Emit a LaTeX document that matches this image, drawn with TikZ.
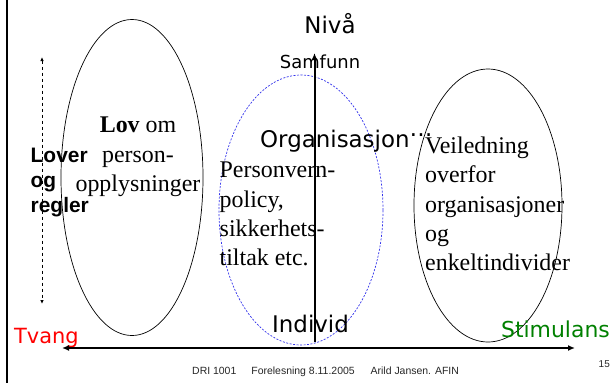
\documentclass[tikz,border=0pt]{standalone}
\usepackage{fontspec}
\setmainfont{Liberation Serif}
\setsansfont{Liberation Sans}
\newfontfamily\handfont{DejaVu Sans}
\usetikzlibrary{arrows.meta,shapes.geometric}
\definecolor{tvangred}{RGB}{255,0,0}
\definecolor{stimgreen}{RGB}{0,128,0}
\definecolor{dashblue}{RGB}{50,50,235}
\tikzset{
  hand/.style={font=\handfont\fontsize{#1}{#1}\selectfont, inner sep=0pt},
  bodytext/.style={font=\fontsize{24}{29.3}\selectfont, inner sep=0pt},
  zone/.style={ellipse, draw, line width=0.7bp, inner sep=0pt},
  axis/.style={line width=2bp, {Latex[length=7bp,width=6bp]}-{Latex[length=7bp,width=6bp]}}
}
\begin{document}
\begin{tikzpicture}[x=1bp,y=-1bp]
\useasboundingbox (0,0) rectangle (613,383);
%\draw[step=10,gray,very thin] (0,0) grid (613,383);
\draw[line width=2.3bp] (6.7,0) -- (6.7,383);

% the three zones
\node[zone, minimum width=142bp, minimum height=316bp] (lovzone) at (132,177.5) {};
\node[zone, dashblue, dash pattern=on 2bp off 1.5bp, minimum width=164bp, minimum height=270bp] (orgzone) at (301,210) {};
\node[zone, minimum width=148bp, minimum height=273bp] (guidezone) at (488,205.5) {};

\node[bodytext, align=center, anchor=north] (lovtext) at (138,117) {\textbf{Lov} om\\person-\\opplysninger};
\node[bodytext, align=left, anchor=north west] (policytext) at (219.5,162) {Personvern-\\policy,\\sikkerhets-\\tiltak etc.};
\node[bodytext, align=left, anchor=north west] (guidetext) at (425,137) {Veiledning\\overfor\\organisasjoner\\og\\enkeltindivider};
\node[font=\sffamily\bfseries\fontsize{21}{25}\selectfont, inner sep=0pt, align=left, anchor=north west] (rules) at (30.5,148) {Lover\\og\\regler};

\node[hand=23, anchor=base] (niva) at (330,33) {Nivå};
\node[hand=18, anchor=base] (samfunn) at (320,68) {Samfunn};
\node[hand=23, anchor=base west] (org) at (260,147) {Organisasjon\raisebox{11bp}{…}};
\node[hand=23, anchor=base west] (individ) at (272,332) {Individ};
\node[hand=21, text=tvangred, anchor=base west] (tvang) at (14,343) {Tvang};
\node[hand=22, text=stimgreen, anchor=base east] (stim) at (610,337) {Stimulans};

% axes
\coordinate (xleft) at (62,348);
\coordinate (xright) at (575,348);
\coordinate (ybot) at (314.5,342);
\coordinate (ytop) at (314.5,53);
\coordinate (dtop) at (42,57);
\coordinate (dbot) at (42,304);
\draw[axis] (xleft) -- (xright);
\draw[line width=2bp, -{Latex[length=7bp,width=6bp]}] (ybot) -- (ytop);
\draw[line width=0.8bp, dash pattern=on 3bp off 3bp, {Latex[length=4bp,width=3.5bp]}-{Latex[length=4bp,width=3.5bp]}] (dtop) -- (dbot);

\node[font=\sffamily\fontsize{10.5}{12}\selectfont, text=black!85, inner sep=0pt, anchor=base west] (footer) at (192,374) {DRI 1001\hspace{15bp}Forelesning 8.11.2005\hspace{16bp}Arild Jansen. AFIN};
\node[font=\sffamily\fontsize{10}{12}\selectfont, text=black!85, inner sep=0pt, anchor=base east] (pageno) at (610,367) {15};
\end{tikzpicture}
\end{document}
